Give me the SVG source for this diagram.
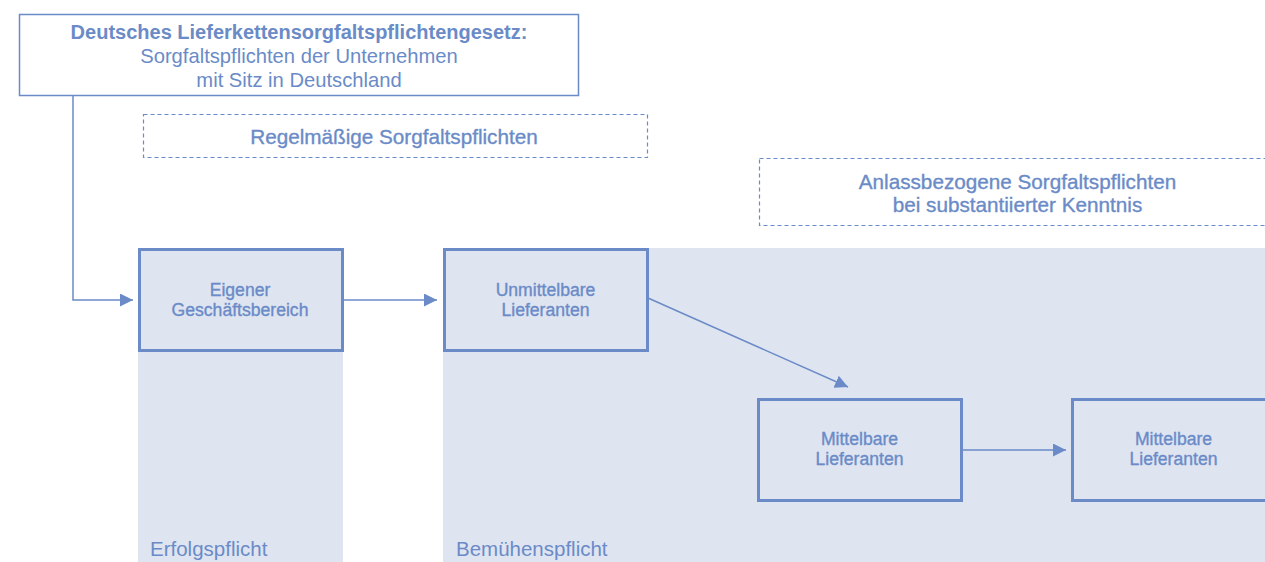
<svg xmlns="http://www.w3.org/2000/svg" width="1265" height="562" viewBox="0 0 1265 562">
<defs>
<style>
.t{font-family:"Liberation Sans",Arial,sans-serif;fill:#6a8bc7;text-anchor:middle}
.m{stroke:#6a8bc7;stroke-width:0.35}
.node{fill:#dfe4f1;stroke:#6a8bc7;stroke-width:3}
.band{fill:#dfe4f1}
.dash{fill:none;stroke:#6a8bc7;stroke-width:1.2;stroke-dasharray:4 3}
.conn{fill:none;stroke:#6a8bc7;stroke-width:1.5}
</style>
<marker id="ah" viewBox="0 0 13 13" refX="13" refY="6.5" markerWidth="13" markerHeight="13" markerUnits="userSpaceOnUse" orient="auto">
<path d="M0,0 L13,6.5 L0,13 Z" fill="#6a8bc7"/>
</marker>
</defs>
<rect width="1265" height="562" fill="#ffffff"/>
<g id="bands">
<rect class="band" x="138" y="248" width="205" height="314"/>
<rect class="band" x="443" y="248" width="822" height="314"/>
<text class="t" x="150" y="556" font-size="20.5" style="text-anchor:start">Erfolgspflicht</text>
<text class="t" x="456" y="556" font-size="20.5" style="text-anchor:start">Bemühenspflicht</text>
</g>
<g id="law">
<rect x="19.5" y="14.5" width="559" height="81" fill="#ffffff" stroke="#6a8bc7" stroke-width="1.5"/>
<text class="t" x="299" y="39" font-size="20" font-weight="bold">Deutsches Lieferkettensorgfaltspflichtengesetz:</text>
<text class="t" x="299" y="63" font-size="20.2">Sorgfaltspflichten der Unternehmen</text>
<text class="t" x="299" y="87" font-size="20.2">mit Sitz in Deutschland</text>
</g>
<g id="regel">
<rect class="dash" x="143.5" y="114.5" width="504" height="43"/>
<text class="t m" x="394" y="144" font-size="20.7">Regelmäßige Sorgfaltspflichten</text>
</g>
<g id="anlass">
<rect class="dash" x="759.5" y="158.5" width="520" height="67"/>
<text class="t m" x="1017.5" y="189" font-size="20.7">Anlassbezogene Sorgfaltspflichten</text>
<text class="t m" x="1017.5" y="212" font-size="20.7">bei substantiierter Kenntnis</text>
</g>
<g id="eigener">
<rect class="node" x="139.5" y="249.5" width="203" height="101"/>
<text class="t m" x="240" y="296" font-size="17.6">Eigener</text>
<text class="t m" x="240" y="316" font-size="17.6">Geschäftsbereich</text>
</g>
<g id="unmittelbar">
<rect class="node" x="444.5" y="249.5" width="203" height="101"/>
<text class="t m" x="545.5" y="296" font-size="17.6">Unmittelbare</text>
<text class="t m" x="545.5" y="316" font-size="17.6">Lieferanten</text>
</g>
<g id="mittelbar1">
<rect class="node" x="758.5" y="399.5" width="203" height="101"/>
<text class="t m" x="859.5" y="445" font-size="17.6">Mittelbare</text>
<text class="t m" x="859.5" y="465" font-size="17.6">Lieferanten</text>
</g>
<g id="mittelbar2">
<rect class="node" x="1072.5" y="399.5" width="203" height="101"/>
<text class="t m" x="1173.5" y="445" font-size="17.6">Mittelbare</text>
<text class="t m" x="1173.5" y="465" font-size="17.6">Lieferanten</text>
</g>
<g id="connectors">
<path class="conn" d="M73,96 V300 H133" marker-end="url(#ah)"/>
<path class="conn" d="M343,300 H437" marker-end="url(#ah)"/>
<path class="conn" d="M648,298 L848,387" marker-end="url(#ah)"/>
<path class="conn" d="M962,450 H1066" marker-end="url(#ah)"/>
</g>
</svg>
